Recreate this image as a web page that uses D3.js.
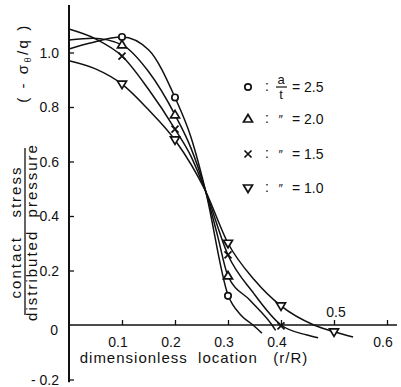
<!DOCTYPE html>
<html><head><meta charset="utf-8">
<script src="https://cdn.jsdelivr.net/npm/d3@7"></script>
<style>
html,body{margin:0;padding:0;background:#fff;}
svg{display:block;}
text{font-family:"Liberation Sans",Arial,sans-serif;fill:#111;}
</style></head>
<body><svg id="c" width="401" height="387"></svg>
<script>
// ---- data ----
const seriesNames = ["2.5", "2.0", "1.5", "1.0"];
const markerTypes = ["circle", "triangle", "cross", "triangleDown"];
// smooth curve traces [r/R, stress]
const curve25 = [[0,1.013],[0.04,1.035],[0.1,1.057],[0.15,1.01],[0.2,0.835],[0.23,0.69],[0.258,0.49],[0.3,0.11],[0.325,0.035],[0.347,0],[0.364,-0.03]];
const curve20 = [[0,1.046],[0.045,1.052],[0.1,1.028],[0.15,0.93],[0.2,0.771],[0.23,0.65],[0.258,0.49],[0.28,0.33],[0.3,0.18],[0.342,0.09],[0.383,0],[0.39,-0.02]];
const curve15 = [[0,1.086],[0.05,1.05],[0.1,0.987],[0.15,0.865],[0.2,0.719],[0.23,0.62],[0.258,0.49],[0.3,0.257],[0.347,0.12],[0.4,0],[0.449,-0.037],[0.47,-0.047]];
const curve10 = [[0,0.970],[0.05,0.94],[0.1,0.884],[0.15,0.79],[0.2,0.679],[0.258,0.49],[0.3,0.30],[0.35,0.165],[0.4,0.07],[0.462,0],[0.5,-0.025],[0.536,-0.044]];
// plotted markers
const marks25 = [[0.1,1.057],[0.2,0.835],[0.3,0.107]];
const marks20 = [[0.1,1.028],[0.2,0.771],[0.3,0.18]];
const marks15 = [[0.1,0.987],[0.2,0.719],[0.3,0.257],[0.4,-0.003]];
const marks10 = [[0.1,0.884],[0.2,0.679],[0.3,0.30],[0.4,0.07],[0.5,-0.025]];
const xTicks = [0.1,0.2,0.3,0.4,0.5,0.6];
const xTickLabels = ["0.1","0.2","0.3","0.4","0.5","0.6"];
const yTicks = [-0.2,0.2,0.4,0.6,0.8,1.0];
const yTickLabels = ["- 0.2","0.2","0.4","0.6","0.8","1.0"];

const curves = [curve25, curve20, curve15, curve10];
const marks = [marks25, marks20, marks15, marks10];

const svg = d3.select("#c");
const x = d3.scaleLinear().domain([0, 0.6]).range([69, 387]);
const y = d3.scaleLinear().domain([0, 1.0]).range([325, 52.5]);

// axes
const gx = svg.append("g").attr("transform", "translate(0," + y(0) + ")")
  .call(d3.axisBottom(x).tickValues(xTicks).tickSize(-5).tickFormat(""));
gx.select(".domain").remove();
gx.selectAll("line").attr("stroke", "#111").attr("stroke-width", 1.3);
svg.append("line").attr("x1", x(0)).attr("x2", 397).attr("y1", y(0)).attr("y2", y(0))
  .attr("stroke", "#111").attr("stroke-width", 1.6);

const gy = svg.append("g").attr("transform", "translate(" + x(0) + ",0)")
  .call(d3.axisLeft(y).tickValues(yTicks).tickSize(-5).tickFormat(""));
gy.select(".domain").remove();
gy.selectAll("line").attr("stroke", "#111").attr("stroke-width", 1.3);
svg.append("line").attr("x1", x(0)).attr("x2", x(0)).attr("y1", 5).attr("y2", y(-0.21))
  .attr("stroke", "#111").attr("stroke-width", 2);

// tick labels
xTicks.forEach((v, i) => {
  const above = v === 0.5;
  svg.append("text").attr("x", x(v) - (above ? -2 : 4)).attr("y", above ? y(0) - 8 : y(0) + 22)
    .attr("text-anchor", "middle").attr("font-size", 14).text(xTickLabels[i]);
});
yTicks.forEach((v, i) => {
  svg.append("text").attr("x", 59).attr("y", y(v) + 5)
    .attr("text-anchor", "end").attr("font-size", 14).text(yTickLabels[i]);
});
svg.append("text").attr("x", 58).attr("y", y(0) + 10).attr("text-anchor", "end")
  .attr("font-size", 14).text("0");

// axis titles
svg.append("text").attr("x", 194).attr("y", 363).attr("text-anchor", "middle")
  .attr("font-size", 15).attr("letter-spacing", 1).attr("xml:space", "preserve")
  .text("dimensionless  location   (r/R)");

const yt = svg.append("text").attr("transform", "translate(28,63) rotate(-90)")
  .attr("text-anchor", "middle").attr("font-size", 15).attr("letter-spacing", 2.5);
yt.append("tspan").text("( - σ");
yt.append("tspan").attr("font-size", 9).attr("dy", 3).text("θ");
yt.append("tspan").attr("dy", -3).text("/q )");

svg.append("text").attr("transform", "translate(21,232) rotate(-90)")
  .attr("text-anchor", "middle").attr("font-size", 15).attr("letter-spacing", 2)
  .attr("xml:space", "preserve").text("contact   stress");
svg.append("line").attr("x1", 25).attr("x2", 25).attr("y1", 148).attr("y2", 315)
  .attr("stroke", "#111").attr("stroke-width", 1.3);
svg.append("text").attr("transform", "translate(37,232) rotate(-90)")
  .attr("text-anchor", "middle").attr("font-size", 15).attr("letter-spacing", 2)
  .attr("xml:space", "preserve").text("distributed  pressure");

// curves
const line = d3.line().x(d => x(d[0])).y(d => y(d[1])).curve(d3.curveMonotoneX);
curves.forEach(c => {
  svg.append("path").attr("d", line(c)).attr("fill", "none")
    .attr("stroke", "#111").attr("stroke-width", 1.5);
});

// markers
function drawMarker(g, type, cx, cy) {
  if (type === "circle") {
    g.append("circle").attr("cx", cx).attr("cy", cy).attr("r", 3.2)
      .attr("fill", "#fff").attr("stroke", "#111").attr("stroke-width", 1.7);
  } else if (type === "triangle") {
    g.append("path").attr("d", `M${cx},${cy-4.5}L${cx+4.5},${cy+3}L${cx-4.5},${cy+3}Z`)
      .attr("fill", "#fff").attr("stroke", "#111").attr("stroke-width", 1.7);
  } else if (type === "triangleDown") {
    g.append("path").attr("d", `M${cx-4.5},${cy-3}L${cx+4.5},${cy-3}L${cx},${cy+4.5}Z`)
      .attr("fill", "#fff").attr("stroke", "#111").attr("stroke-width", 1.7);
  } else {
    g.append("path").attr("d", `M${cx-3.5},${cy-3.5}L${cx+3.5},${cy+3.5}M${cx-3.5},${cy+3.5}L${cx+3.5},${cy-3.5}`)
      .attr("fill", "none").attr("stroke", "#111").attr("stroke-width", 1.7);
  }
}
marks.forEach((m, i) => {
  m.forEach(d => drawMarker(svg, markerTypes[i], x(d[0]), y(d[1])));
});

// legend
const legY = [87, 119, 154, 188];
seriesNames.forEach((s, i) => {
  drawMarker(svg, markerTypes[i], 248, legY[i]);
  svg.append("text").attr("x", 265).attr("y", legY[i] + 4).attr("font-size", 14).text(":");
  if (i === 0) {
    svg.append("text").attr("x", 281).attr("y", legY[i] - 3).attr("text-anchor", "middle")
      .attr("font-size", 13).text("a");
    svg.append("line").attr("x1", 276).attr("x2", 287).attr("y1", legY[i]).attr("y2", legY[i])
      .attr("stroke", "#111").attr("stroke-width", 1.2);
    svg.append("text").attr("x", 281).attr("y", legY[i] + 12).attr("text-anchor", "middle")
      .attr("font-size", 13).text("t");
  } else {
    svg.append("text").attr("x", 280).attr("y", legY[i] + 5).attr("text-anchor", "middle")
      .attr("font-size", 12).attr("font-style", "italic").text("\u2033");
  }
  svg.append("text").attr("x", 292).attr("y", legY[i] + 5).attr("font-size", 14)
    .attr("xml:space", "preserve").text("= " + s);
});
</script></body></html>
